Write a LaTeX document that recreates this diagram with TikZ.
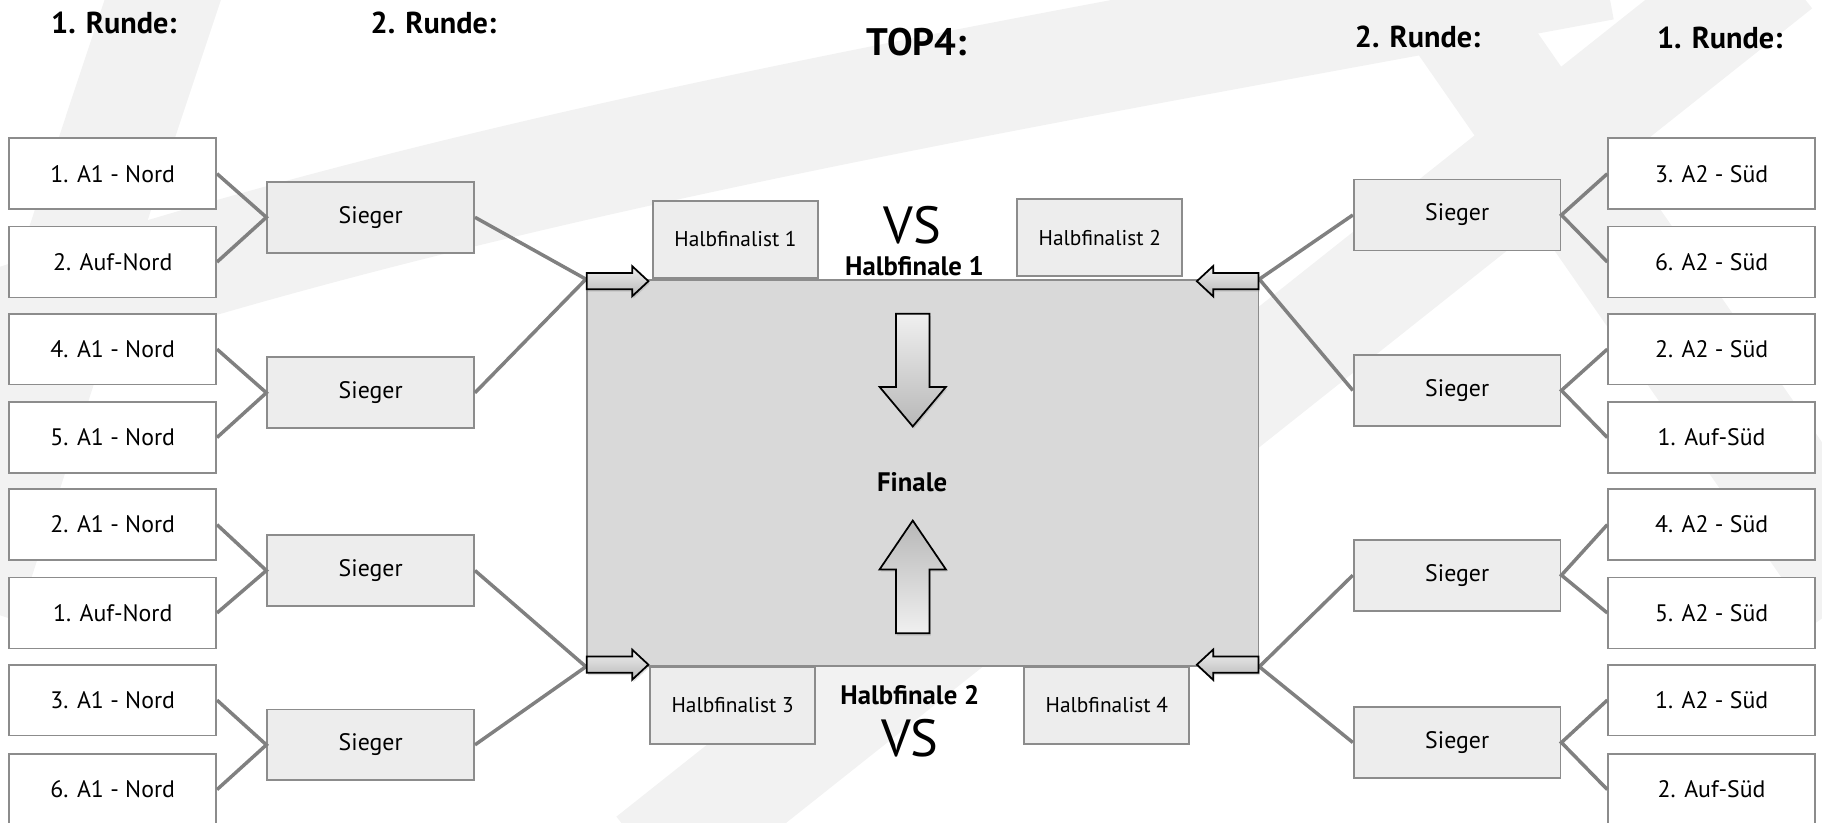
\documentclass[tikz,border=0pt]{standalone}
\usepackage{fontspec}
\setmainfont{PT Sans}
\usetikzlibrary{shadows}

\tikzset{
  runde/.style={font=\bfseries\fontsize{26}{30}\selectfont},
  box/.style={draw=black!45, line width=1.5pt, minimum width=178pt, minimum height=61pt, inner sep=0pt, font=\fontsize{20.5}{22}\selectfont},
  erste/.style={box, fill=white},
  sieger/.style={box, fill=black!7},
  halb/.style={draw=black!45, line width=1.5pt, fill=black!7, minimum width=142pt, minimum height=66pt, inner sep=0pt, font=\fontsize{18.4}{20}\selectfont},
  fett/.style={font=\bfseries\fontsize{23}{26}\selectfont},
  linie/.style={draw=black!50, line width=3pt},
  pfeil/.style={draw=black, line width=1.5pt, top color=black!6, bottom color=black!28, drop shadow={opacity=0.25, shadow xshift=1pt, shadow yshift=-2pt}},
  wasser/.style={draw=black!5, line width=95pt},
}

\begin{document}
\begin{tikzpicture}[x=1pt, y=-1pt]

\useasboundingbox (0,0) rectangle (1568,707.5);

% Wasserzeichen
\draw [wasser] (-30,520) .. controls (40,300) and (90,150) .. (150,-30);
\draw [wasser] (-30,290) .. controls (400,140) and (900,60) .. (1380,-30);
\draw [wasser] (1225,-30) -- (1600,510);
\draw [wasser] (1530,-30) -- (560,740);

% Ueberschriften
\node [runde] (t1) at (98,20) {1. Runde:};
\node [runde] (t2) at (373,20) {2. Runde:};
\node [runde, font=\bfseries\fontsize{33}{36}\selectfont] (top) at (789,36) {TOP4:};
\node [runde] (t3) at (1220,32) {2. Runde:};
\node [runde] (t4) at (1480,33) {1. Runde:};

% Finale
\node [draw=black!45, line width=1.5pt, fill=black!15, minimum width=578pt, minimum height=332pt] (fin) at (794,407) {};
\node [fett] (finale) at (785,415) {Finale};

% 1. Runde links
\node [erste] (l1) at (97,149.5) {1. A1 - Nord};
\node [erste] (l2) at (97,225.5) {2. Auf-Nord};
\node [erste] (l3) at (97,300.5) {4. A1 - Nord};
\node [erste] (l4) at (97,376.5) {5. A1 - Nord};
\node [erste] (l5) at (97,451.5) {2. A1 - Nord};
\node [erste] (l6) at (97,527.5) {1. Auf-Nord};
\node [erste] (l7) at (97,602.5) {3. A1 - Nord};
\node [erste] (l8) at (97,679.5) {6. A1 - Nord};

% 2. Runde links
\node [sieger] (sl1) at (319,187) {Sieger};
\node [sieger] (sl2) at (319,338) {Sieger};
\node [sieger] (sl3) at (319,491) {Sieger};
\node [sieger] (sl4) at (319,641) {Sieger};

% 2. Runde rechts
\node [sieger] (sr1) at (1254,185) {Sieger};
\node [sieger] (sr2) at (1254,336) {Sieger};
\node [sieger] (sr3) at (1254,495) {Sieger};
\node [sieger] (sr4) at (1254,639) {Sieger};

% 1. Runde rechts
\node [erste] (r1) at (1473,149.5) {3. A2 - Süd};
\node [erste] (r2) at (1473,225.5) {6. A2 - Süd};
\node [erste] (r3) at (1473,300.5) {2. A2 - Süd};
\node [erste] (r4) at (1473,376.5) {1. Auf-Süd};
\node [erste] (r5) at (1473,451.5) {4. A2 - Süd};
\node [erste] (r6) at (1473,527.5) {5. A2 - Süd};
\node [erste] (r7) at (1473,602.5) {1. A2 - Süd};
\node [erste] (r8) at (1473,679.5) {2. Auf-Süd};

% Halbfinale
\node [halb] (h1) at (633,206) {Halbfinalist 1};
\node [halb] (h2) at (946.5,204.5) {Halbfinalist 2};
\node [halb] (h3) at (630.5,607) {Halbfinalist 3};
\node [halb] (h4) at (952.5,607) {Halbfinalist 4};
\node [font=\fontsize{45}{50}\selectfont] (vs1) at (785,194) {VS};
\node [fett] (hf1) at (787,229) {Halbfinale 1};
\node [fett] (hf2) at (783,598) {Halbfinale 2};
\node [font=\fontsize{45}{50}\selectfont] (vs2) at (783,635) {VS};

% Linien
\draw [linie] (l1.east) -- (sl1.west) -- (l2.east);
\draw [linie] (l3.east) -- (sl2.west) -- (l4.east);
\draw [linie] (l5.east) -- (sl3.west) -- (l6.east);
\draw [linie] (l7.east) -- (sl4.west) -- (l8.east);
\draw [linie] (sl1.east) -- (fin.north west) -- (sl2.east);
\draw [linie] (sl3.east) -- (fin.south west) -- (sl4.east);
\draw [linie] (r1.west) -- (sr1.east) -- (r2.west);
\draw [linie] (r3.west) -- (sr2.east) -- (r4.west);
\draw [linie] (r5.west) -- (sr3.east) -- (r6.west);
\draw [linie] (r7.west) -- (sr4.east) -- (r8.west);
\draw [linie] (sr1.west) -- (fin.north east) -- (sr2.west);
\draw [linie] (sr3.west) -- (fin.south east) -- (sr4.west);

% Pfeile
\filldraw [pfeil] (505,235) -- (544,235) -- (544,229) -- (558,242) -- (544,255) -- (544,249) -- (505,249) -- cycle;
\filldraw [pfeil] (505,565) -- (544,565) -- (544,559) -- (558,572) -- (544,585) -- (544,579) -- (505,579) -- cycle;
\filldraw [pfeil] (1083,235) -- (1044,235) -- (1044,229) -- (1030,242) -- (1044,255) -- (1044,249) -- (1083,249) -- cycle;
\filldraw [pfeil] (1083,565) -- (1044,565) -- (1044,559) -- (1030,572) -- (1044,585) -- (1044,579) -- (1083,579) -- cycle;
\filldraw [pfeil] (771,270) -- (800,270) -- (800,333) -- (814,333) -- (785.5,367) -- (757,333) -- (771,333) -- cycle;
\filldraw [pfeil, top color=black!28, bottom color=black!6] (771,545) -- (800,545) -- (800,490) -- (814,490) -- (785.5,448) -- (757,490) -- (771,490) -- cycle;

\end{tikzpicture}
\end{document}
